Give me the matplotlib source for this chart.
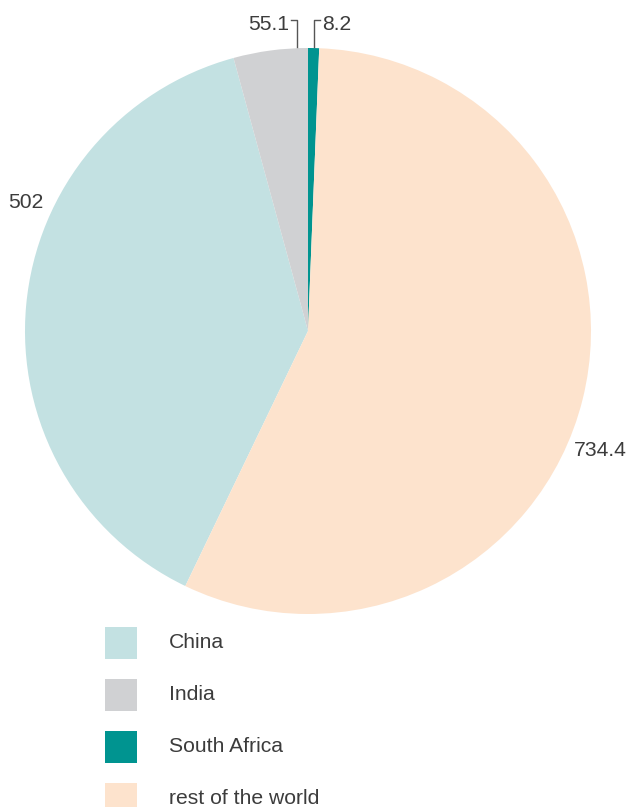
import matplotlib
matplotlib.use("Agg")
import matplotlib.pyplot as plt
from matplotlib.patches import Rectangle

# Dados do gráfico
categorias = ["China", "India", "South Africa", "rest of the world"]
valores = [502, 55.1, 8.2, 734.4]
rotulos = ["502", "55.1", "8.2", "734.4"]
cores = ["#c3e1e2", "#d0d1d3", "#009490", "#fde3cd"]

plt.rcParams['font.family'] = ['Liberation Sans', 'DejaVu Sans']
cor_texto = "#3c3c3c"

W, H = 628, 807
fig = plt.figure(figsize=(W / 100, H / 100), dpi=100)

# Eixo quadrado para a pizza (centro 308,331 px; raio 283 px)
cx, cy, r = 308, 331, 283
ax = fig.add_axes([(cx - r) / W, (H - cy - r) / H, 2 * r / W, 2 * r / H])

total = sum(valores)
inicio = 90 + 360 * (valores[0] + valores[1]) / total
ax.pie(valores, colors=cores, startangle=inicio, counterclock=False,
       radius=1, wedgeprops=dict(linewidth=0))
ax.set_xlim(-1, 1)
ax.set_ylim(-1, 1)
ax.set_aspect("equal")
ax.axis("off")


def px(x, y):
    # converte pixels da imagem em coordenadas do eixo
    return (x - cx) / r, (cy - y) / r


# Rótulos de valor
fs = 15.2
x, y = px(8, 202)
ax.text(x, y, rotulos[0], fontsize=fs, color=cor_texto, ha="left", va="center", clip_on=False)
x, y = px(574, 451)
ax.text(x, y, rotulos[3], fontsize=fs, color=cor_texto, ha="left", va="center", clip_on=False)
x, y = px(289, 25)
ax.text(x, y, rotulos[1], fontsize=fs, color=cor_texto, ha="right", va="center", clip_on=False)
x, y = px(322, 25)
ax.text(x, y, rotulos[2], fontsize=fs, color=cor_texto, ha="left", va="center", clip_on=False)

# Linhas de chamada
for xs, ys in [([291, 297, 297], [20, 20, 47]), ([320, 314, 314], [20, 20, 47])]:
    pts = [px(a, b) for a, b in zip(xs, ys)]
    ax.plot([p[0] for p in pts], [p[1] for p in pts], color="#555555", lw=1, clip_on=False)

# Legenda desenhada à mão (quadrados de 32 px, linhas a cada 52 px)
for i, (cat, cor) in enumerate(zip(categorias, cores)):
    topo = 627 + 52 * i
    fig.patches.append(Rectangle((105 / W, (H - topo - 32) / H), 32 / W, 32 / H,
                                 facecolor=cor, edgecolor="none",
                                 transform=fig.transFigure, figure=fig))
    fig.text(169 / W, (H - topo - 15) / H, cat, fontsize=fs, color=cor_texto,
             ha="left", va="center")

plt.savefig("out.png", dpi=100)
